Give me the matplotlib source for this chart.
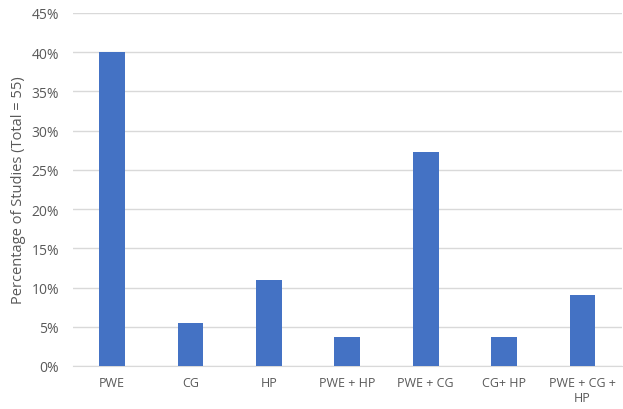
import matplotlib
matplotlib.use("Agg")
import matplotlib.pyplot as plt
from matplotlib.ticker import FuncFormatter

categories = ["PWE", "CG", "HP", "PWE + HP", "PWE + CG", "CG+ HP", "PWE + CG +\nHP"]
percentages = [40.0, 5.45, 10.9, 3.64, 27.3, 3.64, 9.09]
yticks = [0, 5, 10, 15, 20, 25, 30, 35, 40, 45]

plt.rcParams['font.family'] = ['Open Sans', 'DejaVu Sans']
grey = "#595959"

fig = plt.figure(figsize=(6.23, 4.10), dpi=100)
ax = fig.add_axes([0.117, 0.105, 0.881, 0.861])
x = range(len(categories))
ax.bar(x, percentages, width=0.33, color="#4472C4", zorder=3)
ax.set_xlim(-0.5, len(categories) - 0.5)
ax.set_ylim(0, 45)
ax.set_yticks(yticks)
ax.yaxis.set_major_formatter(FuncFormatter(lambda v, p: f"{int(v)}%"))
ax.set_xticks(list(x))
ax.set_xticklabels(categories, color=grey, fontsize=9, linespacing=1.2)
ax.tick_params(axis='y', colors=grey, labelsize=10, length=0, pad=10)
ax.tick_params(axis='x', length=0, pad=7)
ax.grid(axis='y', color="#D9D9D9", linewidth=1, zorder=0)
for s in ["top", "right", "left"]:
    ax.spines[s].set_visible(False)
ax.spines["bottom"].set_color("#D9D9D9")
ax.set_ylabel("Percentage of Studies (Total = 55)", color=grey, fontsize=10.5, labelpad=4)
fig.savefig("out.png", dpi=100)
